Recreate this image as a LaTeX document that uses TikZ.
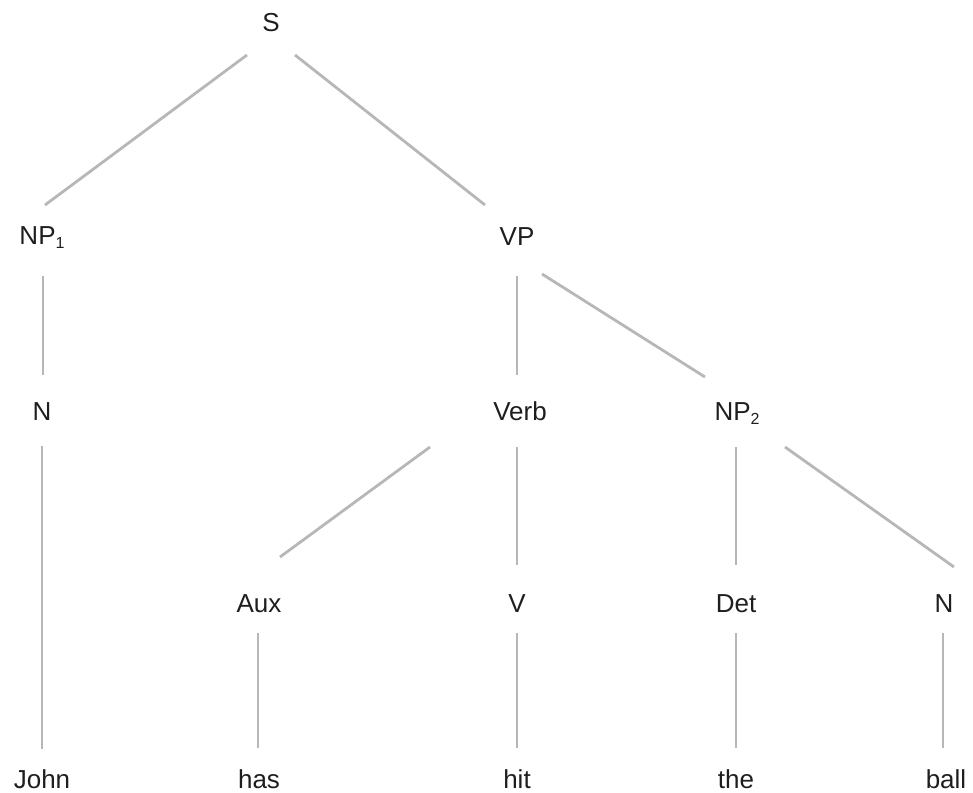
\documentclass[tikz,border=0pt]{standalone}
\usepackage{fontspec}
\setmainfont{Liberation Sans}
\definecolor{edgegray}{RGB}{183,183,183}
\definecolor{labelink}{RGB}{30,30,30}
\newcommand{\lowsub}[1]{\raisebox{-0.18em}{\fontsize{16}{18}\selectfont #1}}
\begin{document}
\begin{tikzpicture}[x=1pt,y=-1pt,
  lbl/.style={anchor=base,inner sep=0pt,text=labelink,font=\fontsize{26}{30}\selectfont},
  edge/.style={draw=edgegray,line width=2.8pt}]
\useasboundingbox (0,0) rectangle (973,792);
\node[lbl] (S) at (271,32) {S};
\node[lbl] (NP1) at (42,244) {NP\lowsub{1}};
\node[lbl] (VP) at (517,245) {VP};
\node[lbl] (N1) at (42,420) {N};
\node[lbl] (Verb) at (520,420) {Verb};
\node[lbl] (NP2) at (737,420) {NP\lowsub{2}};
\node[lbl] (Aux) at (259,612) {Aux};
\node[lbl] (V) at (517,612) {V};
\node[lbl] (Det) at (736,612) {Det};
\node[lbl] (N2) at (944,612) {N};
\node[lbl] (John) at (42,788) {John};
\node[lbl] (has) at (259,788) {has};
\node[lbl] (hit) at (517,788) {hit};
\node[lbl] (the) at (736,788) {the};
\node[lbl] (ball) at (946,788) {ball};
\draw[edge] ([shift={(-24,23)}]S.base) -- ([shift={(3,-39)}]NP1.base);
\draw[edge] ([shift={(24,23)}]S.base) -- ([shift={(-32,-40)}]VP.base);
\draw[edge] ([shift={(1,32)}]NP1.base) -- ([shift={(1,-45)}]N1.base);
\draw[edge] ([shift={(0,31)}]VP.base) -- ([shift={(-3,-45)}]Verb.base);
\draw[edge] ([shift={(25,29)}]VP.base) -- ([shift={(-32,-43)}]NP2.base);
\draw[edge] ([shift={(0,26)}]N1.base) -- ([shift={(0,-39)}]John.base);
\draw[edge] ([shift={(-90,27)}]Verb.base) -- ([shift={(21,-55)}]Aux.base);
\draw[edge] ([shift={(-3,27)}]Verb.base) -- ([shift={(0,-47)}]V.base);
\draw[edge] ([shift={(-1,27)}]NP2.base) -- ([shift={(0,-47)}]Det.base);
\draw[edge] ([shift={(48,27)}]NP2.base) -- ([shift={(10,-45)}]N2.base);
\draw[edge] ([shift={(-1,21)}]Aux.base) -- ([shift={(-1,-40)}]has.base);
\draw[edge] ([shift={(0,21)}]V.base) -- ([shift={(0,-40)}]hit.base);
\draw[edge] ([shift={(0,21)}]Det.base) -- ([shift={(0,-40)}]the.base);
\draw[edge] ([shift={(-1,21)}]N2.base) -- ([shift={(-3,-40)}]ball.base);
\end{tikzpicture}
\end{document}
